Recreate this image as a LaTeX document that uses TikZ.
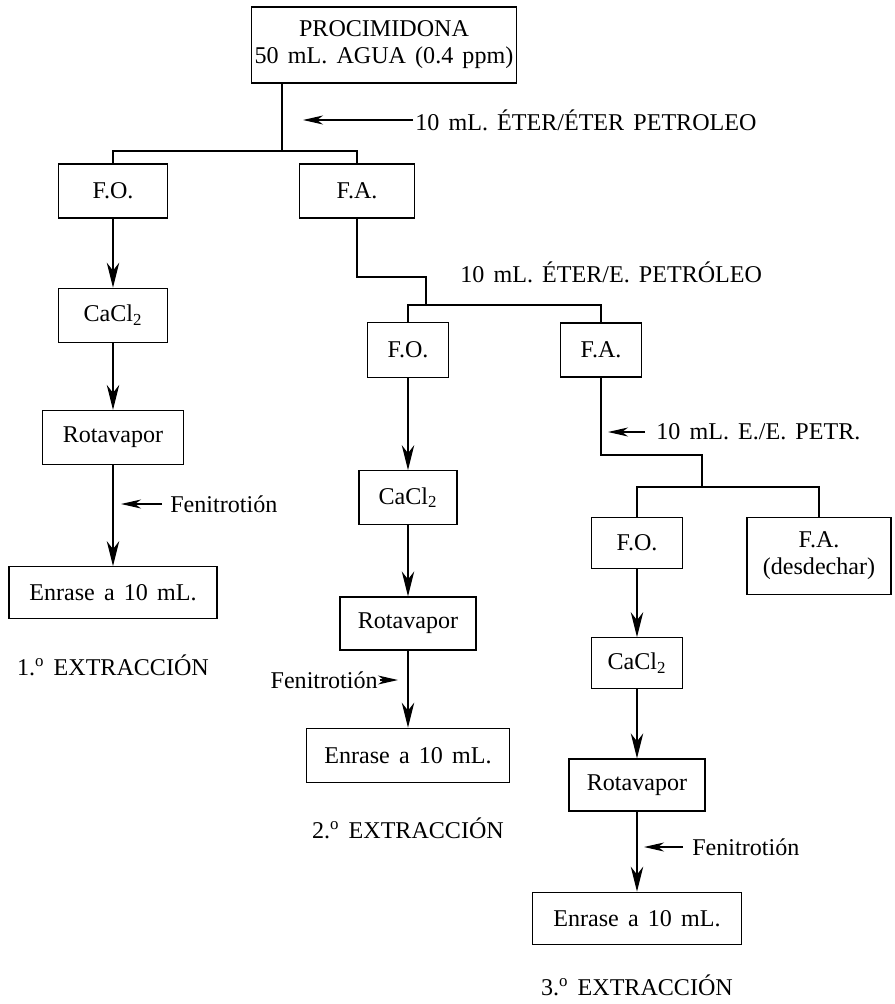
\documentclass[tikz,border=0pt]{standalone}
\usepackage{fontspec}
\setmainfont{Liberation Serif}
\usepackage{tikz}
\usetikzlibrary{arrows.meta,positioning}
\newcommand{\flowfont}{\fontsize{13.7}{15.4}\selectfont\spaceskip=0.38em plus 0.1em}
\tikzset{
  box/.style  ={rectangle, draw=black, line width=0.7pt, align=center,
                font=\flowfont, inner sep=2pt, minimum height=10.8mm},
  lbl/.style  ={font=\flowfont, inner sep=0pt, anchor=west},
  fl/.style   ={-{Stealth[length=5mm,width=2.5mm,inset=1.6mm]}, line width=0.7pt},
  sfl/.style  ={-{Stealth[length=4mm,width=1.8mm,inset=1.2mm]}, line width=0.7pt},
  ln/.style   ={line width=0.7pt},
}
\begin{document}
\begin{tikzpicture}[x=0.2mm,y=-0.2mm]
  \useasboundingbox (0,0) rectangle (894,1004);
  \node[box,minimum width=52.4mm,minimum height=15.2mm] (proc) at (384,45) {PROCIMIDONA\\50 mL. AGUA (0.4 ppm)};
  \node[box,minimum width=21.8mm] (fo1) at (113,191) {F.O.};
  \node[box,minimum width=23mm] (fa1) at (357,191) {F.A.};
  \node[box,minimum width=21.8mm,below=13.8mm of fo1] (cacl1) {CaCl\textsubscript{2}};
  \node[box,minimum width=28.2mm,below=13.4mm of cacl1] (rot1) {Rotavapor};
  \node[box,minimum width=41.6mm,minimum height=10.4mm,below=20.2mm of rot1] (enr1) {Enrase a 10 mL.};
  \node[lbl,below=7mm of enr1] (ext1) {1.\textsuperscript{o} EXTRACCIÓN};
  \node[box,minimum width=16.2mm,minimum height=11mm] (fo2) at (408,350) {F.O.};
  \node[box,minimum width=16.2mm] (fa2) at (601,350) {F.A.};
  \node[box,minimum width=19.6mm,below=18.4mm of fo2] (cacl2) {CaCl\textsubscript{2}};
  \node[box,minimum width=27.2mm,minimum height=10.6mm,below=14.2mm of cacl2] (rot2) {Rotavapor};
  \node[box,minimum width=40.6mm,below=15.4mm of rot2] (enr2) {Enrase a 10 mL.};
  \node[lbl,below=7mm of enr2] (ext2) {2.\textsuperscript{o} EXTRACCIÓN};
  \node[box,minimum width=18.2mm,minimum height=10.2mm] (fo3) at (637,543) {F.O.};
  \node[box,minimum width=28.8mm,minimum height=15.4mm] (fa3) at (819,556) {F.A.\\(desdechar)};
  \node[box,minimum width=18.2mm,minimum height=10.2mm,below=13.6mm of fo3] (cacl3) {CaCl\textsubscript{2}};
  \node[box,minimum width=27.2mm,minimum height=10.4mm,below=13.8mm of cacl3] (rot3) {Rotavapor};
  \node[box,minimum width=41.8mm,minimum height=10.4mm,below=16mm of rot3] (enr3) {Enrase a 10 mL.};
  \node[lbl,below=6mm of enr3] (ext3) {3.\textsuperscript{o} EXTRACCIÓN};
  \node[lbl] (sol1) at (415,120) {10 mL. ÉTER/ÉTER PETROLEO};
  \node[lbl] (sol2) at (460,272) {10 mL. ÉTER/E. PETRÓLEO};
  \node[lbl] (sol3) at (656,432) {10 mL. E./E. PETR.};
  \node[lbl] (fen1) at (170,504) {Fenitrotión};
  \node[lbl,anchor=east] (fen2) at (378,680) {Fenitrotión};
  \node[lbl] (fen3) at (692,847) {Fenitrotión};
  \coordinate (s1) at (282,151);
  \coordinate (k2) at (426,277);
  \coordinate (s2) at (426,305);
  \coordinate (k3) at (702,455);
  \coordinate (s3) at (702,487);
  \draw[ln] (proc.south -| s1) -- (s1);
  \draw[ln] (fo1.north) |- (s1) -| (fa1.north);
  \draw[ln] (fa1.south) |- (k2) -- (s2);
  \draw[ln] (fo2.north) |- (s2) -| (fa2.north);
  \draw[ln] (fa2.south) |- (k3) -- (s3);
  \draw[ln] (fo3.north) |- (s3) -| (fa3.north);
  \draw[sfl] ([xshift=-0.4mm]sol1.west) -- ([xshift=4.2mm]sol1.west -| s1);
  \draw[sfl] ([xshift=-2.2mm]sol3.west) -- ([xshift=1.4mm]sol3.west -| fa2.south);
  \draw[fl] (fo1) -- (cacl1);\draw[fl] (cacl1) -- (rot1);\draw[fl] (rot1) -- (enr1);
  \draw[fl] (fo2) -- (cacl2);\draw[fl] (cacl2) -- (rot2);\draw[fl] (rot2) -- (enr2);
  \draw[fl] (fo3) -- (cacl3);\draw[fl] (cacl3) -- (rot3);\draw[fl] (rot3) -- (enr3);
  \draw[sfl] ([xshift=-1.6mm]fen1.west) -- ([xshift=1.6mm]fen1.west -| rot1.south);
  \draw[sfl] ([xshift=0.4mm]fen2.east) -- ([xshift=-2mm]fen2.east -| rot2.south);
  \draw[sfl] ([xshift=-1.8mm]fen3.west) -- ([xshift=1.4mm]fen3.west -| rot3.south);
\end{tikzpicture}
\end{document}
